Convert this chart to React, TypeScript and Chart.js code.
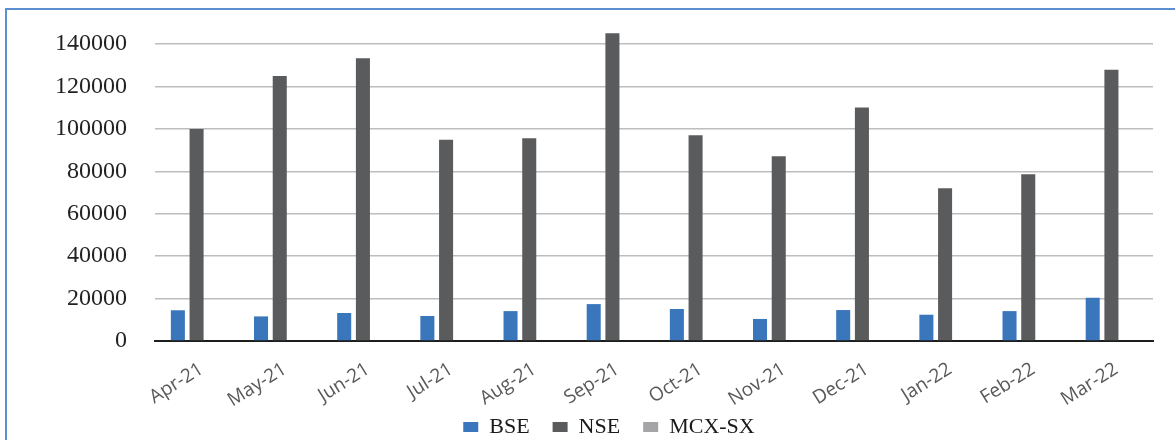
import React, { useEffect, useRef } from "react";
import { Chart, registerables } from "chart.js";

Chart.register(...registerables);

const categories = ["Apr-21", "May-21", "Jun-21", "Jul-21", "Aug-21", "Sep-21", "Oct-21", "Nov-21", "Dec-21", "Jan-22", "Feb-22", "Mar-22"];
const bseValues = [14500, 11600, 13200, 11800, 14100, 17400, 15100, 10400, 14600, 12400, 14100, 20400];
const nseValues = [100000, 125000, 133400, 94900, 95600, 145200, 97000, 87200, 110200, 72000, 78700, 127900];
const mcxValues = [0, 0, 0, 0, 0, 0, 0, 0, 0, 0, 0, 0];
const yTicks = [0, 20000, 40000, 60000, 80000, 100000, 120000, 140000];

const legendShift = {
  id: "legendShift",
  afterLayout(chart: any) {
    const l = chart.legend;
    if (!l) return;
    const h = l.height;
    l.left = 65;
    l.top = 393;
    l.bottom = 393 + h;
  },
};

export default function App() {
  const ref = useRef<HTMLCanvasElement | null>(null);
  useEffect(() => {
    if (!ref.current) return;
    const chart = new Chart(ref.current, {
      type: "bar",
      data: {
        labels: categories,
        datasets: [
          { label: "BSE", data: bseValues, backgroundColor: "#3A76BC", categoryPercentage: 0.675, barPercentage: 0.75 },
          { label: "NSE", data: nseValues, backgroundColor: "#5A5B5D", categoryPercentage: 0.675, barPercentage: 0.75 },
          { label: "MCX-SX", data: mcxValues, backgroundColor: "#A5A5A7", categoryPercentage: 0.675, barPercentage: 0.75 },
        ],
      },
      plugins: [legendShift],
      options: {
        responsive: false,
        animation: false,
        layout: { padding: { left: 0, right: 22, top: 23, bottom: 0 } },
        plugins: {
          tooltip: { enabled: false },
          legend: {
            position: "bottom",
            labels: {
              boxWidth: 15,
              boxHeight: 10,
              padding: 23,
              color: "#1a1a1a",
              font: { family: "'Liberation Serif', serif", size: 22 },
            },
          },
        },
        scales: {
          x: {
            grid: { display: false, drawTicks: false },
            border: { display: true, color: "#1d1d1d", width: 2 },
            ticks: {
              maxRotation: 32,
              minRotation: 32,
              padding: 17,
              labelOffset: 5,
              color: "#595959",
              font: { family: "'Open Sans', sans-serif", size: 19 },
            },
            afterFit: (s: any) => { s.height = 75; },
          },
          y: {
            min: 0,
            max: 150000,
            grid: { color: "#BDBDBD", lineWidth: 1.5, drawTicks: true, tickLength: 28, tickColor: "rgba(0,0,0,0)" },
            border: { display: false },
            afterBuildTicks: (s: any) => { s.ticks = yTicks.map((v) => ({ value: v })); },
            ticks: {
              padding: 0,
              color: "#222222",
              font: { family: "'Liberation Serif', serif", size: 24 },
              callback: (v: any) => String(v),
            },
            afterFit: (s: any) => { s.width = 155; },
          },
        },
      },
    });
    return () => chart.destroy();
  }, []);
  return (
    <div style={{ position: "absolute", left: 0, top: 0, width: 1175, height: 440, overflow: "hidden", background: "#fff" }}>
      <div style={{ position: "absolute", left: 5, top: 8, width: 1300, height: 600, borderLeft: "2px solid #5A8FD2", borderTop: "2px solid #5A8FD2", boxSizing: "border-box" }} />
      <canvas ref={ref} width={1175} height={471} style={{ position: "absolute", left: 0, top: 0, display: "block" }} />
    </div>
  );
}
